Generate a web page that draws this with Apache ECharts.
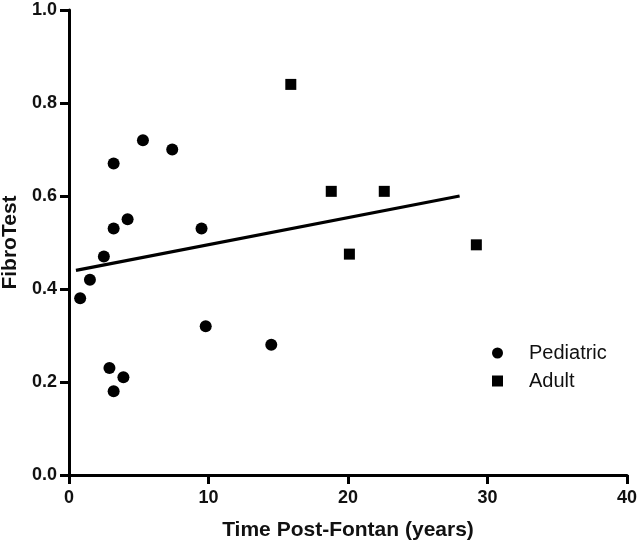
<!DOCTYPE html>
<html>
<head>
<meta charset="utf-8">
<script src="https://cdn.jsdelivr.net/npm/echarts@6/dist/echarts.min.js"></script>
<style>
html,body{margin:0;padding:0;background:#fff;}
#chart{width:641px;height:545px;}
</style>
</head>
<body>
<div id="chart"></div>
<script>
const pediatricX = [0.8, 1.5, 2.5, 3.2, 3.2, 4.2, 5.3, 7.4, 9.5, 2.9, 3.2, 3.9, 9.8, 14.5];
const pediatricY = [0.38, 0.42, 0.47, 0.53, 0.67, 0.55, 0.72, 0.70, 0.53, 0.23, 0.18, 0.21, 0.32, 0.28];
const adultX = [15.9, 18.8, 22.6, 20.1, 29.2];
const adultY = [0.84, 0.61, 0.61, 0.475, 0.495];
const fitX = [0.5, 28.0];
const fitY = [0.44, 0.60];
const xTicks = [0, 10, 20, 30, 40];
const yTicks = [0.0, 0.2, 0.4, 0.6, 0.8, 1.0];

const zip = (xs, ys) => xs.map((x, i) => [x, ys[i]]);
const FONT = 'Liberation Sans, Arial, sans-serif';

const chart = echarts.init(document.getElementById('chart'), null, {renderer: 'canvas'});
chart.setOption({
  animation: false,
  backgroundColor: '#ffffff',
  grid: {left: 69, right: 14, top: 10, bottom: 70, containLabel: false, outerBoundsMode: 'none'},
  xAxis: {
    type: 'value',
    min: xTicks[0], max: xTicks[xTicks.length - 1], interval: 10,
    name: 'Time Post-Fontan (years)',
    nameLocation: 'middle',
    nameGap: 45,
    nameTextStyle: {fontFamily: FONT, fontWeight: 'bold', fontSize: 21, color: '#111'},
    axisLine: {show: true, lineStyle: {color: '#000', width: 3}},
    axisTick: {show: true, length: 9, lineStyle: {color: '#000', width: 3}},
    axisLabel: {fontFamily: FONT, fontWeight: 'bold', fontSize: 18, color: '#111', margin: 14},
    splitLine: {show: false}
  },
  yAxis: {
    type: 'value',
    min: yTicks[0], max: yTicks[yTicks.length - 1], interval: 0.2,
    name: 'FibroTest',
    nameLocation: 'middle',
    nameGap: 48,
    nameTextStyle: {fontFamily: FONT, fontWeight: 'bold', fontSize: 21, color: '#111'},
    axisLine: {show: true, lineStyle: {color: '#000', width: 3}},
    axisTick: {show: true, length: 9, lineStyle: {color: '#000', width: 3}},
    axisLabel: {fontFamily: FONT, fontWeight: 'bold', fontSize: 18, color: '#111', margin: 12,
      formatter: v => v.toFixed(1)},
    splitLine: {show: false}
  },
  legend: {
    orient: 'vertical',
    left: 487, top: 338,
    itemWidth: 11, itemHeight: 11, itemGap: 8,
    data: [{name: 'Pediatric', icon: 'circle'}, {name: 'Adult', icon: 'rect'}],
    itemStyle: {color: '#000', opacity: 1},
    textStyle: {fontFamily: FONT, fontSize: 20, color: '#111', padding: [0, 0, 0, 21]}
  },
  series: [
    {
      name: 'Pediatric', type: 'scatter', symbol: 'circle', symbolSize: 12,
      itemStyle: {color: '#000', opacity: 1},
      data: zip(pediatricX, pediatricY)
    },
    {
      name: 'Adult', type: 'scatter', symbol: 'rect', symbolSize: 11,
      itemStyle: {color: '#000', opacity: 1},
      data: zip(adultX, adultY)
    },
    {
      name: 'fit', type: 'line', symbol: 'none',
      lineStyle: {color: '#000', width: 3.2},
      data: zip(fitX, fitY),
      z: 1
    }
  ]
});
</script>
</body>
</html>
